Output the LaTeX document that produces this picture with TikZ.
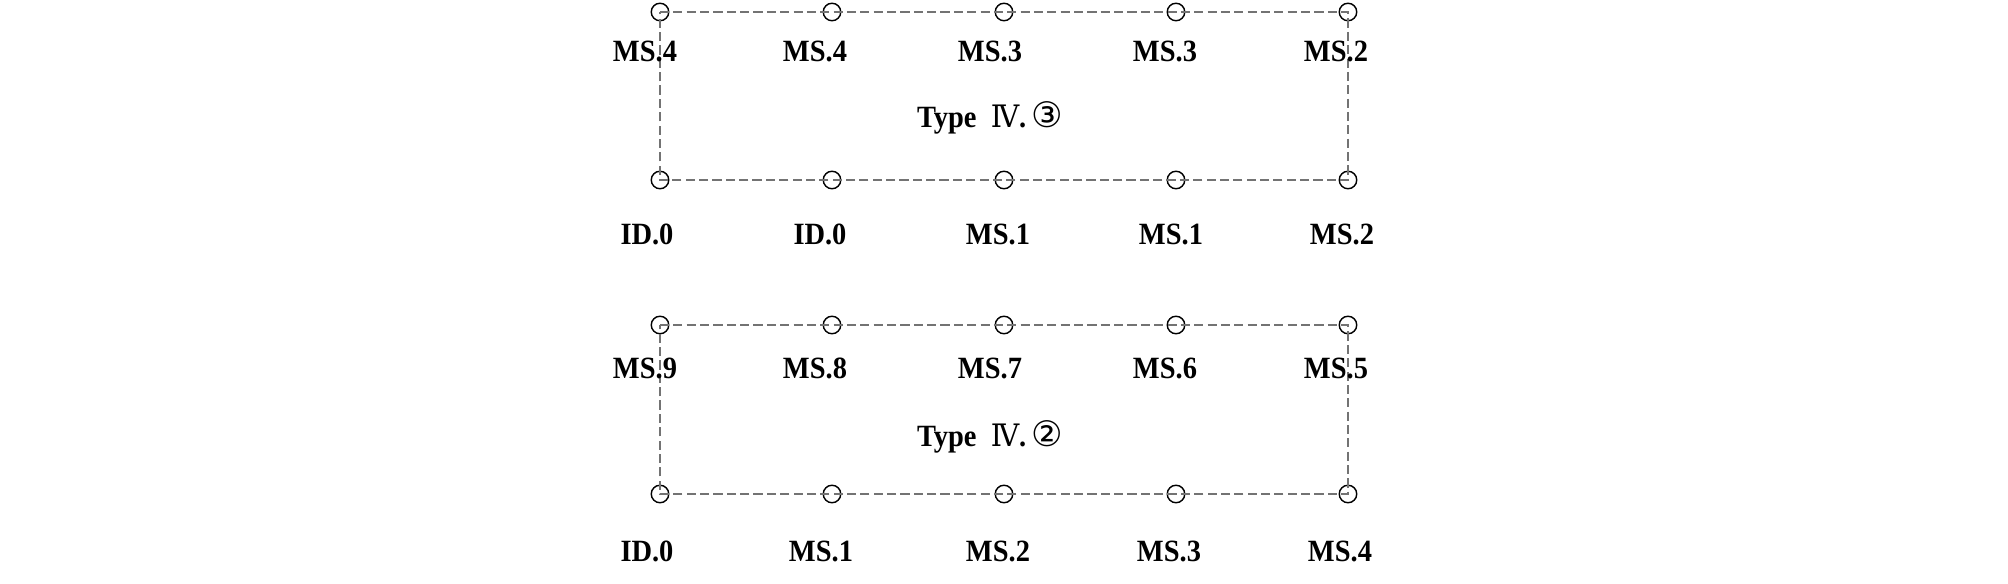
\documentclass[tikz,border=0pt]{standalone}
\usepackage{fontspec}
\setmainfont[FakeStretch=0.92]{Liberation Serif}
\newfontfamily\romanfont[FakeStretch=0.92]{DejaVu Serif}
\newfontfamily\circfont{DejaVu Sans}
\begin{document}
\begin{tikzpicture}
% Styles for the pins, the frames and the labels
\tikzset{
  pin/.style={draw, circle, inner sep=0pt, minimum size=0.175cm, line width=0.4pt},
  frame/.style={draw=gray!90!black, line width=0.7pt, dash pattern=on 2.6pt off 1.2pt},
  lbl/.style={font=\fontsize{8.8}{10}\selectfont\bfseries, inner sep=0pt, anchor=base},
  ttl/.style={font=\fontsize{8.8}{10}\selectfont\bfseries, inner sep=0pt, anchor=base}
}
\useasboundingbox (0, 0) rectangle (20.08, -5.84);

% Type IV.3 (upper frame)
\node[pin] (a1) at (6.60, -0.12) {};
\node[pin] (a2) at (8.32, -0.12) {};
\node[pin] (a3) at (10.04, -0.12) {};
\node[pin] (a4) at (11.76, -0.12) {};
\node[pin] (a5) at (13.48, -0.12) {};
\node[pin] (b1) at (6.60, -1.80) {};
\node[pin] (b2) at (8.32, -1.80) {};
\node[pin] (b3) at (10.04, -1.80) {};
\node[pin] (b4) at (11.76, -1.80) {};
\node[pin] (b5) at (13.48, -1.80) {};
\draw[frame] (a1.center) -- (a5.center) -- (b5.center) -- (b1.center) -- cycle;
\node[lbl] (la1) at (6.45, -0.62) {MS.4};
\node[lbl] (la2) at (8.15, -0.62) {MS.4};
\node[lbl] (la3) at (9.90, -0.62) {MS.3};
\node[lbl] (la4) at (11.65, -0.62) {MS.3};
\node[lbl] (la5) at (13.36, -0.62) {MS.2};
\node[ttl] (ta) at (9.90, -1.28) {Type\ \ {\romanfont\mdseries Ⅳ}.\,{\circfont\mdseries\fontsize{10}{10}\selectfont ③}};
\node[lbl] (lb1) at (6.47, -2.45) {ID.0};
\node[lbl] (lb2) at (8.20, -2.45) {ID.0};
\node[lbl] (lb3) at (9.98, -2.45) {MS.1};
\node[lbl] (lb4) at (11.71, -2.45) {MS.1};
\node[lbl] (lb5) at (13.42, -2.45) {MS.2};

% Type IV.2 (lower frame)
\node[pin] (c1) at (6.60, -3.25) {};
\node[pin] (c2) at (8.32, -3.25) {};
\node[pin] (c3) at (10.04, -3.25) {};
\node[pin] (c4) at (11.76, -3.25) {};
\node[pin] (c5) at (13.48, -3.25) {};
\node[pin] (d1) at (6.60, -4.94) {};
\node[pin] (d2) at (8.32, -4.94) {};
\node[pin] (d3) at (10.04, -4.94) {};
\node[pin] (d4) at (11.76, -4.94) {};
\node[pin] (d5) at (13.48, -4.94) {};
\draw[frame] (c1.center) -- (c5.center) -- (d5.center) -- (d1.center) -- cycle;
\node[lbl] (lc1) at (6.45, -3.79) {MS.9};
\node[lbl] (lc2) at (8.15, -3.79) {MS.8};
\node[lbl] (lc3) at (9.90, -3.79) {MS.7};
\node[lbl] (lc4) at (11.65, -3.79) {MS.6};
\node[lbl] (lc5) at (13.36, -3.79) {MS.5};
\node[ttl] (tc) at (9.90, -4.47) {Type\ \ {\romanfont\mdseries Ⅳ}.\,{\circfont\mdseries\fontsize{10}{10}\selectfont ②}};
\node[lbl] (ld1) at (6.47, -5.62) {ID.0};
\node[lbl] (ld2) at (8.21, -5.62) {MS.1};
\node[lbl] (ld3) at (9.98, -5.62) {MS.2};
\node[lbl] (ld4) at (11.69, -5.62) {MS.3};
\node[lbl] (ld5) at (13.40, -5.62) {MS.4};
\end{tikzpicture}
\end{document}
